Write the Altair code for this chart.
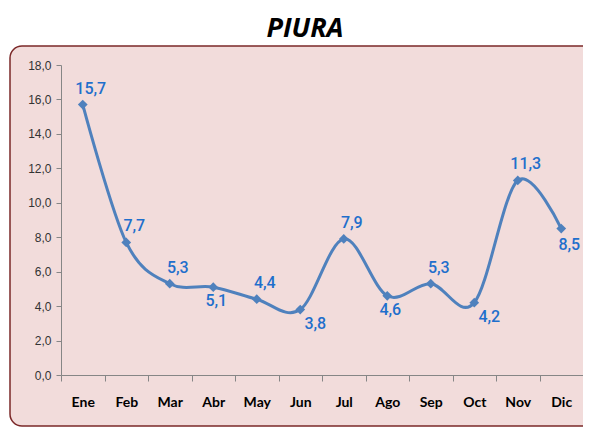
import altair as alt
import pandas as pd

months = ["Ene", "Feb", "Mar", "Abr", "May", "Jun", "Jul", "Ago", "Sep", "Oct", "Nov", "Dic"]
values = [15.7, 7.7, 5.3, 5.1, 4.4, 3.8, 7.9, 4.6, 5.3, 4.2, 11.3, 8.5]
y_ticks = [0, 2, 4, 6, 8, 10, 12, 14, 16, 18]
title_text = "PIURA"

# label placement groups
labels_above = ["Ene", "Feb", "Mar", "May", "Jul", "Sep", "Nov"]
labels_below = ["Abr", "Ago"]
labels_below_right = ["Jun", "Oct"]
labels_edge = ["Dic"]

df = pd.DataFrame({"mes": months, "valor": values})
df["etiqueta"] = [f"{v:.1f}".replace(".", ",") for v in values]

LINE = "#4F81BD"
LABEL = "#1F6FCC"

xenc = alt.X(
    "mes:N",
    sort=months,
    scale=alt.Scale(type="band", paddingInner=0, paddingOuter=0),
    axis=alt.Axis(
        title=None, labelAngle=0, tickBand="extent", tickSize=6,
        domainColor="#868686", tickColor="#868686", zindex=1,
        labelFont="Lato", labelFontWeight="bold", labelFontSize=14,
        labelColor="#000000", labelPadding=14,
    ),
)
yenc = alt.Y(
    "valor:Q",
    scale=alt.Scale(domain=[0, 18], nice=False),
    axis=alt.Axis(
        title=None, values=y_ticks, grid=False, tickSize=5, zindex=1,
        domainColor="#868686", tickColor="#868686",
        labelFont="Liberation Sans", labelFontSize=12, labelColor="#333333",
        labelPadding=5,
        labelExpr="replace(format(datum.value, '.1f'), '.', ',')",
    ),
)

base = alt.Chart(df)

panel = alt.Chart(alt.Data(values=[{}])).mark_rect(
    fill="#F2DCDB", stroke="#7B2828", strokeWidth=1.5, cornerRadius=12
).encode(
    x=alt.value(-51), x2=alt.value(560), y=alt.value(-19), y2=alt.value(361)
)

title = alt.Chart(alt.Data(values=[{"t": title_text}])).mark_text(
    font="Open Sans", fontSize=27, fontWeight="bold", fontStyle="italic",
    color="#000000", align="center", baseline="alphabetic"
).encode(text="t:N", x=alt.value(244), y=alt.value(-28))

line = base.mark_line(
    color=LINE, strokeWidth=3, interpolate="cardinal"
).encode(x=xenc, y=yenc)

points = base.mark_point(
    shape="diamond", filled=True, color=LINE, size=95, opacity=1
).encode(x=xenc, y=yenc)

def labels(group, dx, dy):
    return base.transform_filter(
        alt.FieldOneOfPredicate(field="mes", oneOf=group)
    ).mark_text(
        font="Roboto", fontSize=16, fontWeight=500, color=LABEL,
        dx=dx, dy=dy, align="center", baseline="middle"
    ).encode(x=xenc, y=yenc, text="etiqueta:N")

chart = alt.layer(
    panel,
    title,
    line,
    points,
    labels(labels_above, 8, -16),
    labels(labels_below, 3, 14),
    labels(labels_below_right, 15, 14),
    labels(labels_edge, 8, 16),
).properties(
    width=522,
    height=310,
    autosize=alt.AutoSizeParams(type="none"),
    padding={"left": 53, "top": 57, "right": 0, "bottom": 53},
    background="#FFFFFF",
).configure_view(stroke=None)

chart.save("out.html", embed_options={"renderer": "svg", "actions": False})
